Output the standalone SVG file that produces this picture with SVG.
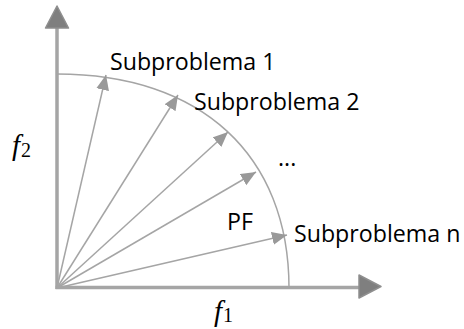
<svg xmlns="http://www.w3.org/2000/svg" width="464" height="329" viewBox="0 0 464 329">
<defs>
<style>
.axis{stroke:#a5a5a5;stroke-width:3.5;fill:none}
.axhead{fill:#7f7f7f;stroke:#8f8f8f;stroke-width:1.5;stroke-linejoin:round}
.ray{stroke:#a5a5a5;stroke-width:1.5;fill:none;marker-end:url(#ah)}
.arc{stroke:#a5a5a5;stroke-width:1.5;fill:none}
.lbl{font-family:"Open Sans","Liberation Sans",sans-serif;font-size:23.2px;fill:#000}
.math{font-family:"Liberation Serif","DejaVu Serif",serif;fill:#000}
</style>
<marker id="ah" markerUnits="userSpaceOnUse" markerWidth="16" markerHeight="14" refX="15" refY="6.5" orient="auto" viewBox="0 0 16 14">
<path d="M0,0 L15,6.5 L0,13 z" fill="#999999"/>
</marker>
</defs>
<g id="axes">
<g id="axis-f2">
<line class="axis" x1="57" y1="289" x2="57" y2="27"/>
<polygon class="axhead" points="57,6 68.5,28 45.5,28"/>
</g>
<g id="axis-f1">
<line class="axis" x1="55.5" y1="287.5" x2="359" y2="287.5"/>
<polygon class="axhead" points="381,286.5 359,275 359,298"/>
</g>
</g>
<g id="pf">
<path class="arc" d="M57,74 C201,74 289,155 289,288"/>
</g>
<g id="connectors">
<line class="ray" x1="57" y1="288" x2="106" y2="75"/>
<line class="ray" x1="57" y1="288" x2="178" y2="95"/>
<line class="ray" x1="57" y1="288" x2="228" y2="132"/>
<line class="ray" x1="57" y1="288" x2="256" y2="172"/>
<line class="ray" x1="57" y1="288" x2="287" y2="235"/>
</g>
<g id="labels">
<text class="lbl" x="110" y="70">Subproblema 1</text>
<text class="lbl" x="194" y="110">Subproblema 2</text>
<text class="lbl" x="278" y="166">...</text>
<text class="lbl" x="227" y="230">PF</text>
<text class="lbl" x="294" y="242">Subproblema n</text>
<text class="math" x="12" y="155" font-size="29" font-style="italic">f<tspan font-style="normal" font-size="20" dx="1" dy="2">2</tspan></text>
<text class="math" x="214" y="321" font-size="29" font-style="italic">f<tspan font-style="normal" font-size="20" dx="1" dy="1">1</tspan></text>
</g>
</svg>
